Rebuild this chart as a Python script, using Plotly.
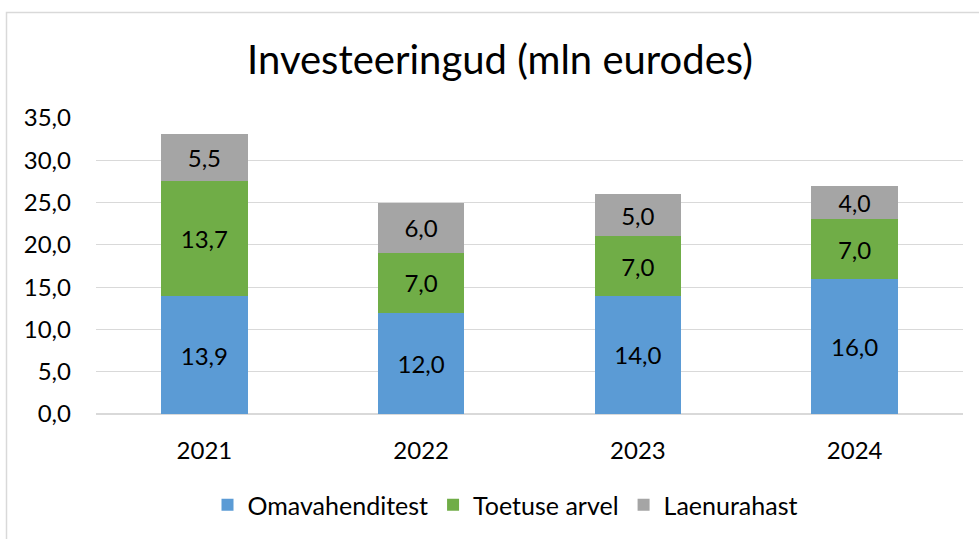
import plotly.graph_objects as go

years = ["2021", "2022", "2023", "2024"]
omavahenditest = [13.9, 12.0, 14.0, 16.0]
toetuse_arvel = [13.7, 7.0, 7.0, 7.0]
laenurahast = [5.5, 6.0, 5.0, 4.0]
series_names = ["Omavahenditest", "Toetuse arvel", "Laenurahast"]
colors = ["#5B9BD5", "#70AD47", "#A5A5A5"]

FONT = "Lato, Open Sans, sans-serif"

fig = go.Figure()
for name, vals, col in zip(series_names, [omavahenditest, toetuse_arvel, laenurahast], colors):
    fig.add_trace(go.Bar(
        x=years, y=vals, name=name, marker=dict(color=col, line=dict(width=0)),
        texttemplate="%{y:.1f}", textposition="inside", insidetextanchor="middle",
        textfont=dict(size=24, color="black", family=FONT),
        hoverinfo="skip",
    ))

fig.update_layout(
    barmode="stack", bargap=0.6,
    width=979, height=539,
    margin=dict(l=96, r=16, t=118, b=125),
    paper_bgcolor="white", plot_bgcolor="white",
    separators=",.",
    font=dict(family=FONT, size=24, color="black"),
    title=dict(text="Investeeringud (mln eurodes)", x=500/979, xanchor="center",
               y=1 - 60/539, yanchor="middle", font=dict(size=40, family=FONT, color="black")),
    xaxis=dict(showgrid=False, showline=False, ticks="", tickfont=dict(size=24), ticklabelstandoff=20),
    yaxis=dict(range=[0, 35], dtick=5, tickformat=".1f", showgrid=True, gridcolor="#D9D9D9",
               gridwidth=1, zeroline=True, zerolinecolor="#D9D9D9", showline=False,
               tickfont=dict(size=24), ticks="", ticklabelstandoff=24),
    legend=dict(orientation="h", x=505/979, xref="container", xanchor="center",
                y=(539 - 505) / 539, yref="container", yanchor="middle",
                font=dict(size=25), itemwidth=30, traceorder="normal"),
    showlegend=True,
    shapes=[dict(type="rect", xref="paper", yref="paper",
                 x0=(6.5 - 96) / 867, x1=1.2, y0=-0.6, y1=(414 - 12.5) / 296,
                 line=dict(color="#D9D9D9", width=1.5), fillcolor="rgba(0,0,0,0)", layer="below")],
)

fig.write_html("out.html", config={"displayModeBar": False},
               post_script="document.body.style.margin='0';document.body.style.overflow='hidden';")
